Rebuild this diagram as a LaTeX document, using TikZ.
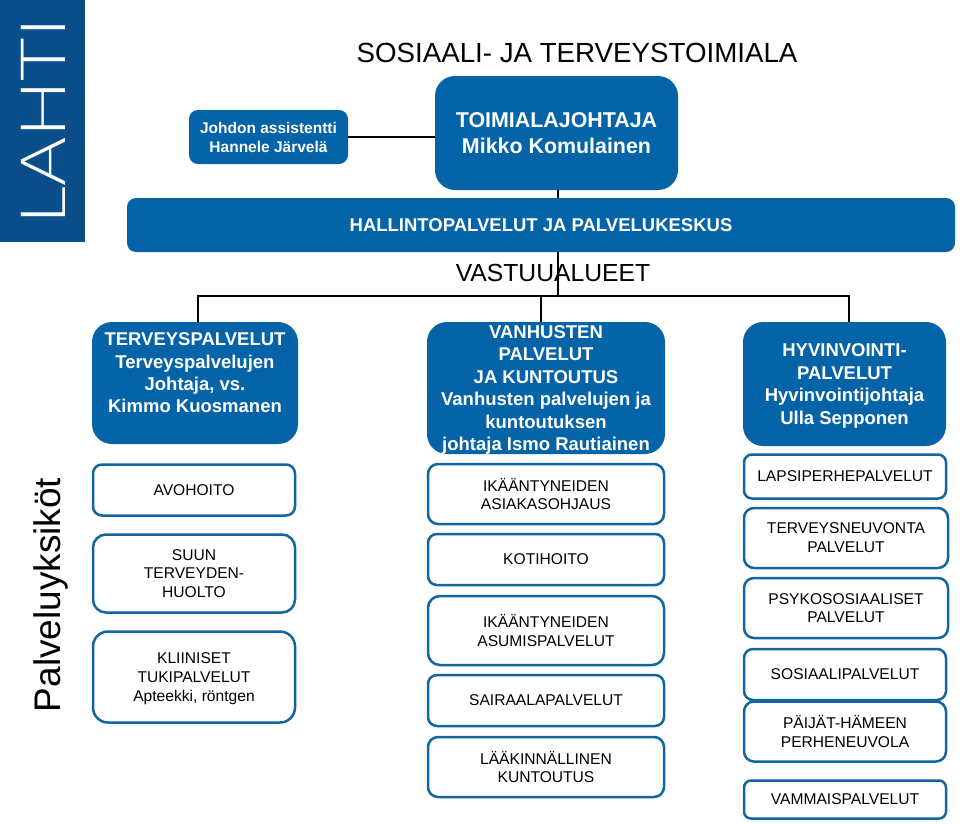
\documentclass[tikz,border=0pt]{standalone}
\usepackage{fontspec}
\setmainfont{Liberation Sans}
\newfontfamily\logofont{Lato Light}
\usetikzlibrary{backgrounds}
\definecolor{headclr}{HTML}{0563A8}
\definecolor{edgeclr}{HTML}{12659F}
\definecolor{logoclr}{HTML}{0A4F8C}

\begin{document}
\begin{tikzpicture}[
  x=1pt, y=-1pt,
  head/.style={
    rectangle, rounded corners=20pt, fill=headclr, text=white, align=center,
    inner sep=0pt, text depth=0pt, font=\bfseries\fontsize{18.5}{22.4}\selectfont,
  },
  small/.style={head, rounded corners=9pt},
  unit/.style={
    rectangle, rounded corners=10pt, draw=edgeclr, line width=2.5pt, fill=white,
    align=center, inner sep=0pt, font=\fontsize{15.6}{18.8}\selectfont,
  },
  left/.style={unit, minimum width=202pt},
  mid/.style={unit, minimum width=236pt},
  right/.style={unit, minimum width=202pt},
  conn/.style={line width=2.5pt, draw=black, line cap=rect},
]
\useasboundingbox (0,0) rectangle (960,823);

% Logo
\node[fill=logoclr, minimum width=85pt, minimum height=242pt, inner sep=0pt] (logo) at (42.5,121) {};
\node[rotate=90, xscale=1.2, text=white, font=\logofont\fontsize{62.5}{66}\selectfont, inner sep=0pt] (logotext) at (43,121.5) {LAHTI};

% Titles
\node[font=\fontsize{27.7}{30}\selectfont, inner sep=0pt] (title) at (577,53) {SOSIAALI- JA TERVEYSTOIMIALA};
\node[font=\fontsize{24.7}{28}\selectfont, inner sep=0pt] (vastuu) at (553,273) {VASTUUALUEET};
\node[rotate=90, font=\fontsize{37}{40}\selectfont, inner sep=0pt] (yksikot) at (51,595) {Palveluyksiköt};

% Top level
\node[head, minimum width=243pt, minimum height=114pt, font=\bfseries\fontsize{21.4}{26.5}\selectfont] (johtaja) at (556.5,133) {TOIMIALAJOHTAJA\\Mikko Komulainen};
\node[small, minimum width=159pt, minimum height=54pt, font=\bfseries\fontsize{15.5}{19}\selectfont] (assistentti) at (268.5,137) {Johdon assistentti\\Hannele Järvelä};
\node[small, minimum width=828pt, minimum height=54pt] (hallinto) at (541,225) {HALLINTOPALVELUT JA PALVELUKESKUS};

% Areas of responsibility
\node[head, minimum width=206pt, minimum height=122pt] (terveys) at (195,383) {TERVEYSPALVELUT\\Terveyspalvelujen\\Johtaja, vs.\\Kimmo Kuosmanen\\[-2pt] \mbox{}};
\node[head, minimum width=238pt, minimum height=132pt] (vanhusten) at (546,388) {VANHUSTEN\\PALVELUT\\JA KUNTOUTUS\\Vanhusten palvelujen ja\\kuntoutuksen\\johtaja Ismo Rautiainen};
\node[head, minimum width=203pt, minimum height=124pt] (hyvinvointi) at (844.5,384) {HYVINVOINTI-\\PALVELUT\\Hyvinvointijohtaja\\Ulla Sepponen};

% Left column
\node[left, minimum height=51pt, rounded corners=9pt] (avohoito) at (194,490) {AVOHOITO};
\node[left, minimum height=78pt, rounded corners=13pt] (suun) at (194,573.5) {SUUN\\TERVEYDEN-\\HUOLTO};
\node[left, minimum height=91pt, rounded corners=15pt, text depth=-1pt] (kliiniset) at (194,677) {KLIINISET\\TUKIPALVELUT\\Apteekki, röntgen};

% Middle column
\node[mid, minimum height=60pt] (asiakas) at (546,494) {IKÄÄNTYNEIDEN\\ASIAKASOHJAUS};
\node[mid, minimum height=51pt, rounded corners=9pt] (koti) at (546,559.5) {KOTIHOITO};
\node[mid, minimum height=69pt, rounded corners=12pt] (asumis) at (546,630.5) {IKÄÄNTYNEIDEN\\ASUMISPALVELUT};
\node[mid, minimum height=51pt, rounded corners=9pt] (sairaala) at (546,700.5) {SAIRAALAPALVELUT};
\node[mid, minimum height=60pt] (kuntoutus) at (546,767) {LÄÄKINNÄLLINEN\\KUNTOUTUS};

% Right column
\node[right, minimum height=44pt, rounded corners=8pt] (lapsi) at (845,476.5) {LAPSIPERHEPALVELUT};
\node[right, minimum width=204pt, minimum height=60pt] (neuvonta) at (846,538) {TERVEYSNEUVONTA\\PALVELUT};
\node[right, minimum width=204pt, minimum height=60pt, text depth=-5pt] (psyko) at (846,608) {PSYKOSOSIAALISET\\PALVELUT};
\node[right, minimum height=51pt, rounded corners=9pt] (sosiaali) at (845,674.5) {SOSIAALIPALVELUT};
\node[right, minimum height=60pt] (neuvola) at (845,731.5) {PÄIJÄT-HÄMEEN\\PERHENEUVOLA};
\node[right, minimum height=38pt, rounded corners=7pt] (vammais) at (845,799.5) {VAMMAISPALVELUT};

% Branch points
\coordinate (trunk) at (558,296);
\coordinate (branchl) at (198,296);
\coordinate (branchm) at (541,296);
\coordinate (branchr) at (849,296);

% Connectors
\begin{scope}[on background layer]
  \draw[conn] (assistentti.east) -- (assistentti.east -| johtaja.west);
  \draw[conn] (johtaja.south -| trunk) -- (trunk);
  \draw[conn] (branchl) -- (branchr);
  \draw[conn] (branchl) -- (branchl |- terveys.north);
  \draw[conn] (branchm) -- (branchm |- vanhusten.north);
  \draw[conn] (branchr) -- (branchr |- hyvinvointi.north);
\end{scope}

\end{tikzpicture}
\end{document}
